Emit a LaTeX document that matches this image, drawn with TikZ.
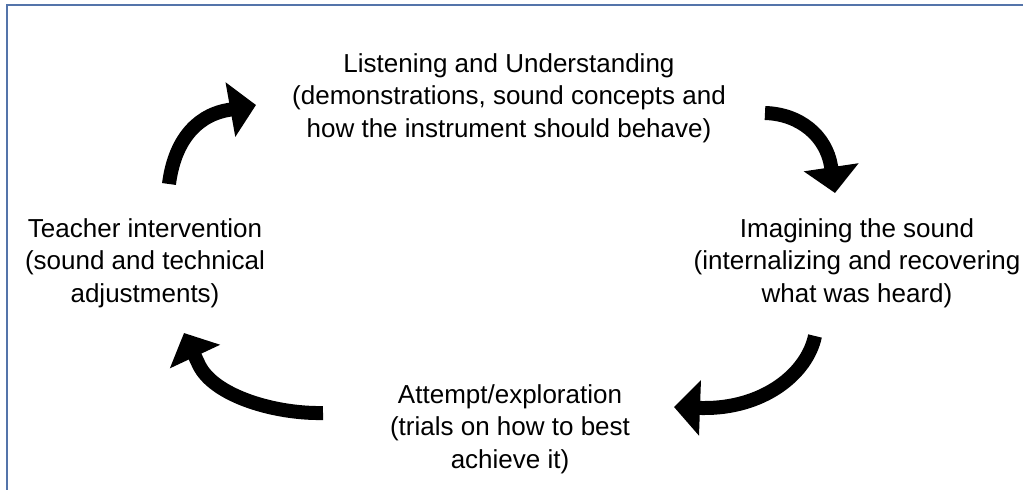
\documentclass[tikz,border=0pt]{standalone}
\usepackage{fontspec}
\setmainfont{Liberation Sans}
\usetikzlibrary{arrows.meta}
\definecolor{framecol}{RGB}{84,116,170}
\tikzset{
  label/.style={align=center, anchor=base, inner sep=0pt,
    font=\fontsize{26}{32.5}\selectfont},
  cycarrow/.style={line width=14pt, draw=black,
    -{Triangle[width=54pt,length=26pt]}},
  frameline/.style={draw=framecol, line width=1.3pt}
}
\begin{document}
\begin{tikzpicture}[x=1pt,y=-1pt]
\useasboundingbox (0,0) rectangle (1023,490);
\fill[white] (0,0) rectangle (1023,490);
\draw[frameline] (7,491) -- (7,5) -- (1024,5);

% anchor=base is the baseline of the last line
\node[label] (listen) at (509,137) {Listening and Understanding\\(demonstrations, sound concepts and\\how the instrument should behave)};
\node[label] (imagine) at (857,302) {Imagining the sound\\(internalizing and recovering\\what was heard)};
\node[label] (attempt) at (510,468) {Attempt/exploration\\(trials on how to best\\achieve it)};
\node[label] (teacher) at (145,302) {Teacher intervention\\(sound and technical\\adjustments)};

% arrow 1: teacher -> listening
\coordinate (a1t) at (169,184);
\coordinate (a1b) at (228,110);
\coordinate (a1h) at (256,105);
\draw[cycarrow] (a1t) .. controls (174,144) and (194,116) .. (a1b) -- (a1h);

% arrow 2: listening -> imagining
\coordinate (a2t) at (765,113);
\coordinate (a2b) at (831,166);
\coordinate (a2h) at (835,193);
\draw[cycarrow] (a2t) .. controls (800,114) and (826,136) .. (a2b) -- (a2h);

% arrow 3: imagining -> attempt
\coordinate (a3t) at (815,336);
\coordinate (a3b) at (702,408);
\coordinate (a3h) at (674,407);
\draw[cycarrow] (a3t) .. controls (807,374) and (763,409) .. (a3b) -- (a3h);

% arrow 4: attempt -> teacher
\coordinate (a4t) at (323,413);
\coordinate (a4b) at (199,365);
\coordinate (a4h) at (184,333);
\draw[cycarrow] (a4t) .. controls (275,414) and (214,396) .. (a4b) -- (a4h);
\end{tikzpicture}
\end{document}
